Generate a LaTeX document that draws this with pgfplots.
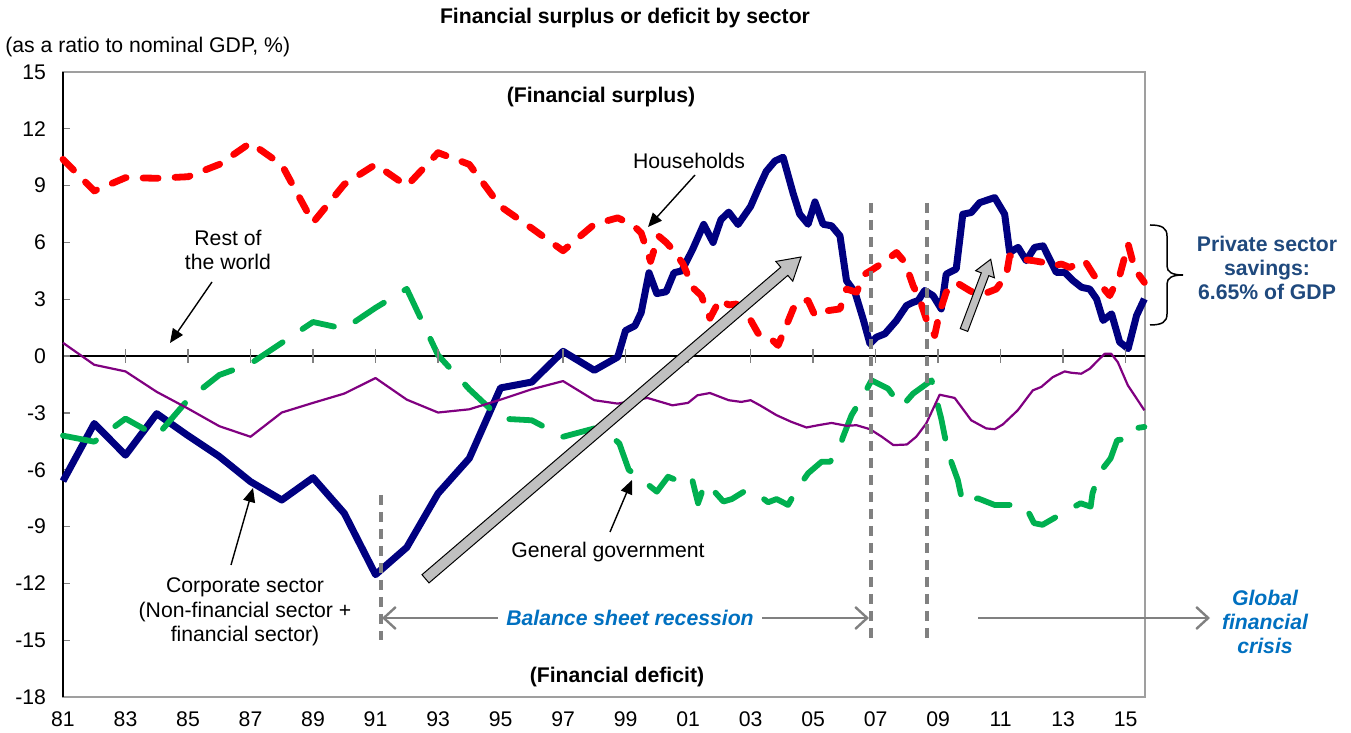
\documentclass[border=0pt]{standalone}
\usepackage{fontspec}
\setmainfont{Liberation Sans}
\usepackage{pgfplots}
\pgfplotsset{compat=1.18}
\usetikzlibrary{calc,arrows.meta}
\definecolor{cnavy}{HTML}{000080}
\definecolor{cred}{HTML}{FF0000}
\definecolor{cgreen}{HTML}{00B050}
\definecolor{cpurple}{HTML}{800080}
\definecolor{cgray}{HTML}{808080}
\definecolor{cblock}{HTML}{C0C0C0}
\definecolor{annblue}{HTML}{0070C0}
\definecolor{psblue}{HTML}{1F497D}
\newcommand{\fs}{\fontsize{10.6}{12.2}\selectfont}
\begin{document}
\begin{tikzpicture}
\begin{axis}[
  at={(0,0)}, anchor=south west, scale only axis, width=541pt, height=312.5pt,
  xmin=1981, xmax=2015.62, ymin=-18, ymax=15,
  xtick={1981,1983,...,2015},
  xticklabels={81,83,85,87,89,91,93,95,97,99,01,03,05,07,09,11,13,15},
  ytick={-18,-15,...,15},
  yticklabels={-18,-15,-12,-9,-6,-3,0,3,6,9,12,15},
  tick label style={font=\fs},
  xtick style={draw=none},
  ytick style={draw=gray, line width=0.6pt},
  ytick pos=left,
  tick align=inside,
  major tick length=3.5pt,
  xticklabel style={yshift=-4pt},
  yticklabel style={xshift=-5pt},
  axis line style={draw=gray!75, line width=0.8pt},
  extra y ticks={0}, extra y tick labels={},
  extra y tick style={grid=major, major grid style={black, line width=0.9pt}, tick style={draw=none}},
  clip=false,
]
\draw[black, line width=0.8pt] (rel axis cs:0,0) -- (rel axis cs:0,1);
% Corporate sector
\addplot[cnavy, line width=3.5pt, line join=round, mark=none] coordinates {
(1981,-6.6)(1982,-3.56)(1983,-5.23)(1984,-3.04)(1985,-4.2)(1986,-5.3)(1987,-6.63)(1988,-7.6)(1989,-6.42)(1990,-8.3)(1991,-11.54)(1992,-10.1)(1993,-7.25)(1994,-5.4)(1995,-1.68)(1996,-1.37)(1997,0.25)(1998,-0.75)(1998.75,-0.05)(1999,1.35)(1999.3,1.6)(1999.5,2.3)(1999.75,4.4)(2000,3.3)(2000.3,3.4)(2000.55,4.4)(2000.8,4.5)(2001.15,5.65)(2001.5,6.95)(2001.8,6.0)(2002.05,7.2)(2002.3,7.6)(2002.6,6.95)(2003,7.9)(2003.25,8.85)(2003.5,9.75)(2003.78,10.3)(2004.04,10.5)(2004.36,8.6)(2004.57,7.5)(2004.84,6.96)(2005.06,8.14)(2005.32,6.96)(2005.59,6.88)(2005.86,6.35)(2006.07,3.98)(2006.34,3.37)(2006.6,1.96)(2006.82,0.65)(2007.03,1.0)(2007.3,1.18)(2007.67,1.88)(2007.99,2.67)(2008.2,2.84)(2008.36,2.93)(2008.57,3.46)(2008.84,3.19)(2009.1,2.49)(2009.26,4.33)(2009.58,4.6)(2009.79,7.49)(2010.06,7.58)(2010.33,8.1)(2010.81,8.37)(2011.13,7.49)(2011.29,5.47)(2011.56,5.74)(2011.82,5.04)(2012.09,5.74)(2012.36,5.82)(2012.78,4.42)(2013.05,4.42)(2013.32,3.98)(2013.59,3.63)(2013.85,3.54)(2014.07,3.02)(2014.28,1.88)(2014.55,2.23)(2014.81,0.74)(2015.08,0.39)(2015.35,2.14)(2015.6,3.02)
};
% Households
\addplot[cred, line width=3.4pt, dash pattern=on 7.5pt off 8.5pt, line cap=round, line join=round, mark=none] coordinates {
(1981,10.39)(1982,8.72)(1983,9.42)(1984,9.39)(1985,9.47)(1986,10.12)(1987,11.26)(1988,10.1)(1989,7.05)(1990,9.07)(1991,10.12)(1992,8.98)(1993,10.74)(1994,10.12)(1995,7.9)(1996,6.75)(1997,5.56)(1998,6.96)(1998.75,7.3)(1999,7.1)(1999.25,6.9)(1999.5,6.5)(1999.8,5.0)(2000.05,6.35)(2000.3,6.0)(2000.55,5.55)(2000.84,4.86)(2001.16,3.6)(2001.42,3.2)(2001.7,2.0)(2002.02,3.0)(2002.3,2.7)(2002.55,2.75)(2002.92,2.14)(2003.24,1.2)(2003.56,1.05)(2003.88,0.56)(2004.1,1.44)(2004.36,2.49)(2004.57,2.93)(2004.84,2.93)(2005.06,2.14)(2005.48,2.4)(2005.86,2.49)(2006.07,3.54)(2006.39,3.37)(2006.66,4.33)(2006.93,4.6)(2007.25,4.95)(2007.67,5.47)(2007.94,4.95)(2008.2,3.72)(2008.41,3.02)(2008.62,1.96)(2008.89,1.09)(2009.05,2.32)(2009.26,3.37)(2009.58,3.89)(2010.01,3.46)(2010.33,3.19)(2010.86,3.54)(2011.18,4.25)(2011.29,5.3)(2011.61,5.12)(2012.04,5.04)(2012.36,4.95)(2012.68,4.77)(2012.95,4.86)(2013.21,4.68)(2013.69,5.04)(2013.96,4.33)(2014.22,3.72)(2014.49,3.19)(2014.81,4.25)(2015.08,5.91)(2015.29,4.6)(2015.6,3.89)
};
% General government
\addplot[cgreen, line width=2.9pt, dash pattern=on 17pt off 12pt, line cap=round, line join=round, mark=none] coordinates {
(1981,-4.2)(1982,-4.52)(1983,-3.3)(1984,-4.22)(1985,-2.3)(1986,-1.0)(1987,-0.4)(1988,0.7)(1989,1.8)(1990,1.44)(1991,2.55)(1992,3.55)(1993,0.05)(1994,-1.75)(1995,-3.3)(1996,-3.39)(1997,-4.26)(1998,-3.82)(1998.5,-4.18)(1998.8,-4.61)(1999.1,-6.0)(1999.6,-6.63)(2000,-7.16)(2000.36,-6.37)(2000.74,-6.63)(2001.11,-6.37)(2001.32,-7.77)(2001.54,-6.72)(2001.75,-6.98)(2002.13,-7.68)(2002.4,-7.55)(2002.87,-7.07)(2003.19,-7.25)(2003.56,-7.72)(2003.83,-7.55)(2004.2,-7.86)(2004.47,-7.07)(2004.84,-6.19)(2005.27,-5.58)(2005.54,-5.58)(2005.8,-5.05)(2005.96,-4.26)(2006.23,-3.12)(2006.55,-2.25)(2006.87,-1.28)(2007.4,-1.72)(2007.83,-2.68)(2008.2,-1.98)(2008.79,-1.28)(2009.1,-3.3)(2009.26,-4.61)(2009.42,-5.58)(2009.63,-6.54)(2009.79,-7.77)(2010.27,-7.51)(2010.81,-7.86)(2011.54,-7.86)(2011.8,-7.95)(2012.07,-8.82)(2012.34,-8.91)(2012.98,-8.3)(2013.56,-7.77)(2013.88,-7.95)(2013.94,-7.25)(2014.15,-6.19)(2014.52,-5.4)(2014.73,-4.44)(2015.11,-4.35)(2015.27,-3.82)(2015.6,-3.74)
};
% Rest of the world
\addplot[cpurple, line width=1.1pt, line join=round, mark=none] coordinates {
(1981,0.7)(1982,-0.46)(1983,-0.81)(1984,-1.89)(1985,-2.77)(1986,-3.7)(1987,-4.26)(1988,-2.98)(1989,-2.47)(1990,-1.98)(1991,-1.16)(1992,-2.3)(1993,-2.98)(1994,-2.81)(1995,-2.3)(1996,-1.75)(1997,-1.32)(1998,-2.33)(1998.75,-2.51)(1999.7,-2.21)(2000.5,-2.6)(2001.0,-2.47)(2001.3,-2.07)(2001.7,-1.95)(2002.3,-2.33)(2002.7,-2.42)(2003.0,-2.33)(2003.3,-2.6)(2003.83,-3.12)(2004.3,-3.47)(2004.79,-3.77)(2005.16,-3.65)(2005.59,-3.53)(2006.07,-3.68)(2006.39,-3.65)(2006.82,-3.86)(2007.2,-4.26)(2007.57,-4.7)(2008.0,-4.67)(2008.3,-4.26)(2008.62,-3.56)(2009.05,-2.04)(2009.53,-2.21)(2010.06,-3.39)(2010.54,-3.82)(2010.81,-3.86)(2011.07,-3.61)(2011.55,-2.86)(2012.03,-1.81)(2012.3,-1.63)(2012.67,-1.11)(2013.05,-0.81)(2013.26,-0.88)(2013.58,-0.93)(2013.85,-0.67)(2014.17,-0.14)(2014.33,0.12)(2014.54,0.12)(2014.75,-0.32)(2015.07,-1.54)(2015.6,-2.86)
};
\end{axis}
\begin{scope}[x=0.5pt,y=-0.5pt,shift={(-31.5pt,348.5pt)}]
\node[font=\fs\bfseries] at (625,18) {Financial surplus or deficit by sector};
\node[font=\fs, anchor=west, inner sep=0pt] at (5,47) {(as a ratio to nominal GDP, \%)};
\node[font=\fs\bfseries] at (601,97) {(Financial surplus)};
\node[font=\fs\bfseries] at (617,677) {(Financial deficit)};
\foreach \k in {1,...,17} \draw[gray, line width=0.6pt] ({63+62.5*\k},349) -- ({63+62.5*\k},363);
% annotations
\node[font=\fs, align=center] at (228,250) {Rest of\\the world};
\draw[line width=0.7pt, -{Triangle[length=7pt,width=6pt]}] (212,282) -- (170,343);
\node[font=\fs] at (689,161) {Households};
\draw[line width=0.7pt, -{Triangle[length=7pt,width=6pt]}] (695,175) -- (648,227);
\node[font=\fs, align=center] at (245,612) {Corporate sector\\(Non-financial sector +\\financial sector)};
\draw[line width=0.7pt, -{Triangle[length=7pt,width=6pt]}] (231,565) -- (253,488);
\node[font=\fs] at (608,552) {General government};
\draw[line width=0.7pt, -{Triangle[length=7pt,width=6pt]}] (610,532) -- (632,480);
% dashed verticals
\draw[cgray, line width=1.8pt, dash pattern=on 5pt off 3.5pt] (381,495) -- (381,640);
\draw[cgray, line width=1.8pt, dash pattern=on 5pt off 3.5pt] (871,203) -- (871,640);
\draw[cgray, line width=1.8pt, dash pattern=on 5pt off 3.5pt] (927,203) -- (927,640);
% period arrows
\draw[cgray, line width=1.2pt, {Straight Barb[length=6pt,width=11pt]}-{Straight Barb[length=6pt,width=11pt]}] (382,618) -- (869,618);
\node[font=\fs\bfseries\itshape, text=annblue, fill=white, inner xsep=4pt] at (630,618) {Balance sheet recession};
\draw[cgray, line width=1.2pt, -{Straight Barb[length=6pt,width=11pt]}] (978,618) -- (1210,618);
\node[font=\fs\bfseries\itshape, text=annblue, align=center] at (1265,622) {Global\\financial\\crisis};
% private sector brace
\draw[line width=0.75pt] (1150,225) .. controls (1162,225) and (1167,228) .. (1167,236) -- (1167,266) .. controls (1167,272) and (1172,275) .. (1183,275) .. controls (1172,275) and (1167,278) .. (1167,284) -- (1167,314) .. controls (1167,322) and (1162,325) .. (1150,325);
\node[font=\fs\bfseries, text=psblue, align=center] at (1267,268) {Private sector\\savings:\\6.65\% of GDP};
% block arrows
\coordinate (A) at (425.5,578.8); \coordinate (B) at (801,257);
\coordinate (H) at ($(B)!11pt!(A)$);
\draw[fill=cblock, line width=0.5pt] ($(A)!2.7pt!90:(B)$) -- ($(H)!2.7pt!-90:(A)$) -- ($(H)!6.5pt!-90:(A)$) -- (B) -- ($(H)!6.5pt!90:(A)$) -- ($(H)!2.7pt!90:(A)$) -- ($(A)!2.7pt!-90:(B)$) -- cycle;
\coordinate (A2) at (964,330); \coordinate (B2) at (990.7,259.3);
\coordinate (H2) at ($(B2)!8pt!(A2)$);
\draw[fill=cblock, line width=0.5pt] ($(A2)!2pt!90:(B2)$) -- ($(H2)!2pt!-90:(A2)$) -- ($(H2)!5pt!-90:(A2)$) -- (B2) -- ($(H2)!5pt!90:(A2)$) -- ($(H2)!2pt!90:(A2)$) -- ($(A2)!2pt!-90:(B2)$) -- cycle;
\pgfresetboundingbox
\path (0,0) rectangle (1351,733);
\end{scope}
\end{tikzpicture}
\end{document}
